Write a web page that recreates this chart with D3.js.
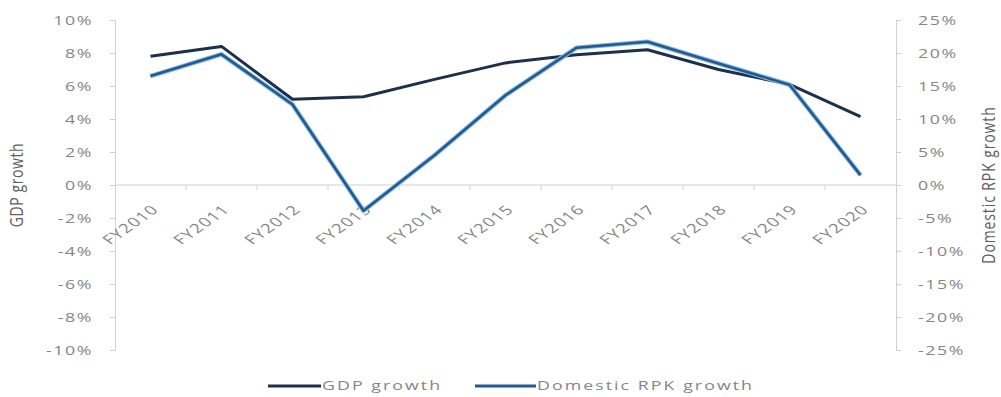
<!DOCTYPE html>
<html>
<head>
<meta charset="utf-8">
<script src="https://cdn.jsdelivr.net/npm/d3@7"></script>
<style>
  html, body { margin: 0; padding: 0; background: #fff; }
  svg { display: block; }
  text { font-family: "Open Sans", "DejaVu Sans", sans-serif; }
</style>
</head>
<body>
<svg id="chart" width="1001" height="397"></svg>
<script>
// Fiscal years on the category axis
const years = ["FY2010","FY2011","FY2012","FY2013","FY2014","FY2015","FY2016","FY2017","FY2018","FY2019","FY2020"];
// GDP growth, % (left axis)
const gdpGrowth = [7.8, 8.4, 5.2, 5.35, 6.4, 7.4, 7.9, 8.2, 7.0, 6.1, 4.15];
// Domestic RPK growth, % (right axis)
const rpkGrowth = [16.5, 19.8, 12.2, -3.9, 4.5, 13.6, 20.8, 21.7, 18.4, 15.2, 1.5];
// Axis tick values
const leftTicks = [10, 8, 6, 4, 2, 0, -2, -4, -6, -8, -10];
const rightTicks = [25, 20, 15, 10, 5, 0, -5, -10, -15, -20, -25];
const seriesNames = ["GDP growth", "Domestic RPK growth"];

(function draw() {
  const svg = d3.select("#chart");
  const plotLeft = 115, plotRight = 896, plotTop = 20, plotBottom = 350;
  const stretch = "scale(1.42,1)";   // wide type used throughout the chart

  const x = d3.scaleBand().domain(years).range([plotLeft, plotRight]);
  const yL = d3.scaleLinear().domain([-10, 10]).range([plotBottom, plotTop]);
  const yR = d3.scaleLinear().domain([-25, 25]).range([plotBottom, plotTop]);

  const axisColor = "#d0d0d0";
  const labelColor = "#858585";

  function styleTicks(g, side) {
    g.select(".domain").attr("stroke", axisColor);
    g.selectAll(".tick line").attr("stroke", axisColor);
    g.selectAll(".tick text")
      .attr("x", 0)
      .attr("text-anchor", side === "left" ? "end" : "start")
      .attr("transform", `translate(${side === "left" ? -22 : 22},0) ${stretch}`)
      .style("fill", labelColor)
      .style("font-size", "12.5px").style("letter-spacing", "1.1px")
      .style("font-family", "'Open Sans', sans-serif");
  }

  // Left value axis
  const gL = svg.append("g").attr("transform", `translate(${plotLeft},0)`)
    .call(d3.axisLeft(yL).tickValues(leftTicks).tickSize(5)
      .tickFormat(d => d + "%"));
  styleTicks(gL, "left");

  // Right value axis
  const gR = svg.append("g").attr("transform", `translate(${plotRight},0)`)
    .call(d3.axisRight(yR).tickValues(rightTicks).tickSize(5)
      .tickFormat(d => d + "%"));
  styleTicks(gR, "right");

  // Category axis along the zero line, ticks between categories
  const gX = svg.append("g").attr("transform", `translate(0,${yL(0)})`);
  gX.append("line").attr("x1", plotLeft).attr("x2", plotRight)
    .attr("stroke", axisColor);
  gX.selectAll("line.sep").data(years.slice(1)).join("line")
    .attr("class", "sep")
    .attr("x1", d => x(d)).attr("x2", d => x(d))
    .attr("y1", 0).attr("y2", 5).attr("stroke", axisColor);
  gX.selectAll("text.cat").data(years).join("text")
    .attr("class", "cat")
    .attr("transform", d => `translate(${x(d) + x.bandwidth() / 2 + 5},22) ${stretch} rotate(-45)`)
    .attr("text-anchor", "end")
    .attr("dy", "0.35em")
    .style("fill", labelColor)
    .style("font-size", "13px").style("letter-spacing", "1px")
    .text(d => d);

  // Axis titles
  svg.append("text")
    .attr("transform", `translate(23,${yL(0)}) scale(1.25,1) rotate(-90)`)
    .attr("text-anchor", "middle")
    .style("font-size", "14px").style("letter-spacing", "0.6px")
    .style("fill", "#5f5f5f")
    .text("GDP growth");
  svg.append("text")
    .attr("transform", `translate(995,${yL(0)}) scale(1.25,1) rotate(-90)`)
    .attr("text-anchor", "middle")
    .style("font-size", "14px").style("letter-spacing", "0.9px")
    .style("fill", "#5f5f5f")
    .text("Domestic RPK growth");

  // Series lines
  const cx = d => x(d) + x.bandwidth() / 2;
  const lineL = d3.line().x((d, i) => cx(years[i])).y(d => yL(d));
  const lineR = d3.line().x((d, i) => cx(years[i])).y(d => yR(d));

  svg.append("path").datum(gdpGrowth)
    .attr("d", lineL).attr("fill", "none")
    .attr("stroke", "#1c2f4d").attr("stroke-width", 3)
    .attr("stroke-linejoin", "round");

  svg.append("path").datum(rpkGrowth)
    .attr("d", lineR).attr("fill", "none")
    .attr("stroke", "#86b8e4").attr("stroke-width", 4.6)
    .attr("stroke-linejoin", "round");
  svg.append("path").datum(rpkGrowth)
    .attr("d", lineR).attr("fill", "none")
    .attr("stroke", "#1f5b96").attr("stroke-width", 2.6)
    .attr("stroke-linejoin", "round");

  // Legend
  const legend = svg.append("g").attr("transform", "translate(0,386)");
  const legendItems = [
    { name: seriesNames[0], x: 268, w: 53, color: "#1c2f4d" },
    { name: seriesNames[1], x: 475, w: 61, color: "#1f5b96" }
  ];
  legendItems.forEach(it => {
    legend.append("line").attr("x1", it.x).attr("x2", it.x + it.w)
      .attr("stroke", it.color).attr("stroke-width", 3);
    legend.append("text")
      .attr("transform", `translate(${it.x + it.w + 1},0) ${stretch}`)
      .attr("dy", "0.35em")
      .style("font-size", "12.5px").style("letter-spacing", "1.45px")
      .style("fill", labelColor)
      .text(it.name);
  });
})();
</script>
</body>
</html>
